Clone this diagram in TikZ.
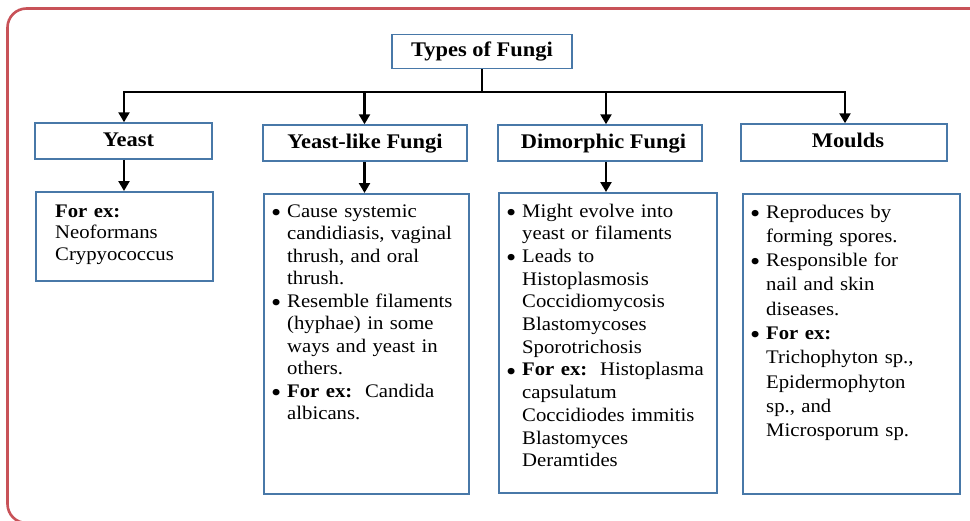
\documentclass[tikz,border=0pt]{standalone}
\usepackage{fontspec}
\usepackage{graphicx}
\setmainfont{Liberation Serif}[FakeStretch=1.08]
\usetikzlibrary{arrows.meta}
\definecolor{framered}{RGB}{200,82,88}
\definecolor{boxblue}{RGB}{72,120,168}
\newcommand{\bw}{13pt}
\newcommand{\bul}{\makebox[\bw][l]{\hspace*{-3pt}\smash{\raisebox{-0.22em}{\scalebox{1.4}{\textbullet}}}}}
\newcommand{\ind}{\hspace*{\bw}}
\tikzset{
  hdr/.style={draw=boxblue, line width=1.5pt, inner sep=0pt,
    text height=14pt, text depth=4pt,
    font=\fontsize{20.8}{22}\selectfont\bfseries},
  cbox/.style={draw=boxblue, line width=1.5pt, inner sep=0pt, anchor=north west},
  body/.style={anchor=base west, inner sep=0pt, text width=#1, align=left},
  bodyfont/.style={font=\fontsize{19.2}{#1}\selectfont},
  conn/.style={line width=2.6pt, black},
  arr/.style={conn, -{Triangle[width=11pt,length=10pt]}},
}
\begin{document}
\begin{tikzpicture}[x=1pt,y=-1pt]
\useasboundingbox (0,0) rectangle (970,520);
\begin{scope}
  \clip (0,0) rectangle (970,520);
  \draw[framered, line width=2.6pt, rounded corners=19pt] (7.5,8.5) rectangle (1010,523);
\end{scope}

% header nodes
\node[hdr, minimum width=180pt, minimum height=34pt] (top) at (482,51.5) {Types of Fungi};
\node[hdr, minimum width=177pt, minimum height=36pt] (yeast) at (123.5,141) {\hspace*{10pt}Yeast};
\node[hdr, minimum width=204pt, minimum height=36pt] (ylike) at (365,143) {Yeast-like Fungi};
\node[hdr, minimum width=204pt, minimum height=36pt] (dimo) at (600,143) {\hspace*{7pt}Dimorphic Fungi};
\node[hdr, minimum width=206pt, minimum height=37pt] (mould) at (844,142.5) {\hspace*{8pt}Moulds};

% content boxes
\node[cbox, minimum width=177pt, minimum height=89pt] (yc) at (35,191) {};
\node[cbox, minimum width=205pt, minimum height=300pt] (ylc) at (263,193) {};
\node[cbox, minimum width=218pt, minimum height=300pt] (dc) at (498,192) {};
\node[cbox, minimum width=217pt, minimum height=300pt] (mc) at (742,193) {};

% connectors
\coordinate (bus) at (482,92);
\coordinate (xa) at (124,92);
\coordinate (xb) at (364.5,92);
\coordinate (xc) at (606,92);
\coordinate (xd) at (845,92);
\draw[conn] (top.south) -- (bus);
\draw[conn, line cap=rect] (xa) -- (xd);
\draw[arr] (xa) -- (xa|-yeast.north);
\draw[arr] (xb) -- (xb|-ylike.north);
\draw[arr] (xc) -- (xc|-dimo.north);
\draw[arr] (xd) -- (xd|-mould.north);
\draw[arr] (xa|-yeast.south) -- (xa|-yc.north);
\draw[arr] (xb|-ylike.south) -- (xb|-ylc.north);
\draw[arr] (xc|-dimo.south) -- (xc|-dc.north);

% content texts
\node[body=150pt, bodyfont=21.6] (yt) at (55,217) {%
\textbf{For ex:}\\
Neoformans\\
Crypyococcus};

\node[body=200pt, bodyfont=22.5] (ylt) at (274,217) {%
\bul Cause systemic\\
\ind candidiasis, vaginal\\
\ind thrush, and oral\\
\ind thrush.\\
\bul Resemble filaments\\
\ind (hyphae) in some\\
\ind ways and yeast in\\
\ind others.\\
\bul \textbf{For ex:}\ \ Candida\\
\ind albicans.};

\node[body=210pt, bodyfont=22.7] (dt) at (509,217) {%
\bul Might evolve into\\
\ind yeast or filaments\\
\bul Leads to\\
\ind Histoplasmosis\\
\ind Coccidiomycosis\\
\ind Blastomycoses\\
\ind Sporotrichosis\\
\bul \textbf{For ex:}\ \ Histoplasma\\
\ind capsulatum\\
\ind Coccidiodes immitis\\
\ind Blastomyces\\
\ind Deramtides};

\node[body=210pt, bodyfont=24.3] (mt) at (753,218) {%
\bul Reproduces by\\
\ind forming spores.\\
\bul Responsible for\\
\ind nail and skin\\
\ind diseases.\\
\bul \textbf{For ex:}\\
\ind Trichophyton sp.,\\
\ind Epidermophyton\\
\ind sp., and\\
\ind Microsporum sp.};
\end{tikzpicture}
\end{document}
